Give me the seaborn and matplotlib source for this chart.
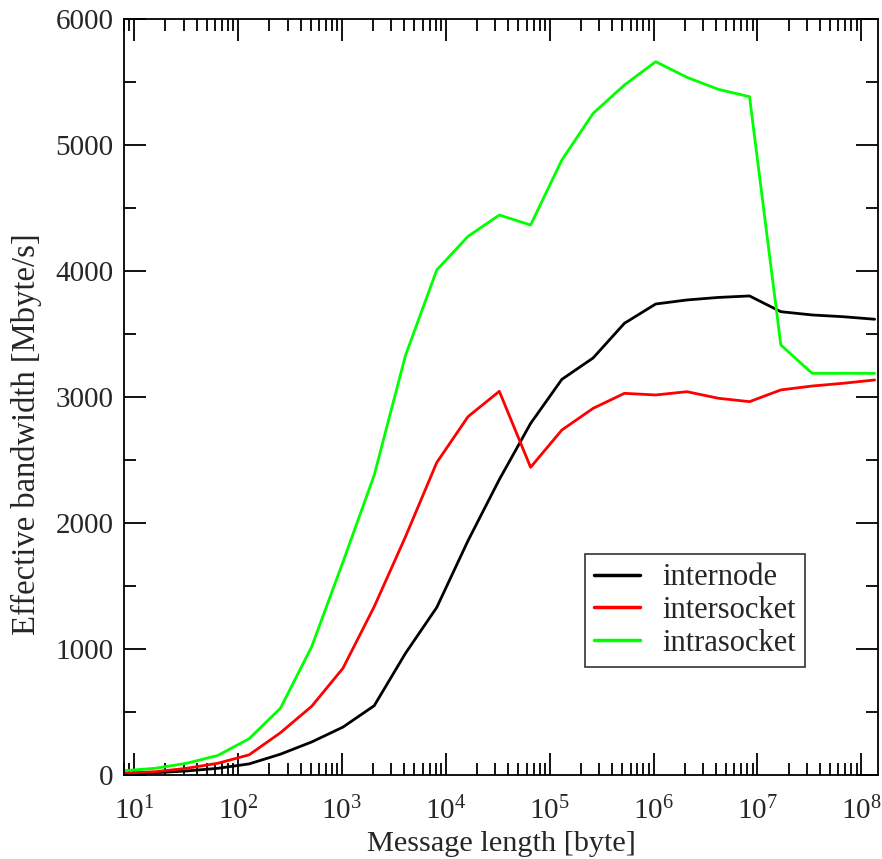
import pandas as pd
import seaborn as sns
import matplotlib.pyplot as plt
from matplotlib.ticker import FixedLocator, LogLocator, MultipleLocator, NullFormatter

# message sizes (bytes), powers of two from 8 to 128M
msg_len = [8, 16, 32, 64, 128, 256, 512, 1024, 2048, 4096, 8192, 16384,
           32768, 65536, 131072, 262144, 524288, 1048576, 2097152, 4194304,
           8388608, 16777216, 33554432, 67108864, 134217728]

# effective bandwidth in Mbyte/s
internode = [8, 18, 32, 53, 88, 165, 262, 380, 550, 966, 1330, 1860, 2345,
             2790, 3140, 3310, 3585, 3738, 3770, 3790, 3802, 3677, 3651,
             3637, 3617]
intersocket = [15, 26, 53, 93, 160, 335, 545, 847, 1336, 1891, 2480, 2844,
               3045, 2442, 2738, 2910, 3029, 3016, 3042, 2990, 2963, 3056,
               3087, 3109, 3135]
intrasocket = [34, 53, 93, 155, 288, 529, 1018, 1690, 2380, 3330, 4008, 4275,
               4444, 4365, 4881, 5251, 5476, 5661, 5537, 5442, 5383, 3413,
               3188, 3188, 3188]

series = ['internode', 'intersocket', 'intrasocket']
colors = ['#000000', '#ff0000', '#00ff00']
decades = [1e1, 1e2, 1e3, 1e4, 1e5, 1e6, 1e7, 1e8]

df = pd.DataFrame({
    'len': msg_len * 3,
    'bw': internode + intersocket + intrasocket,
    'kind': [s for s in series for _ in msg_len],
})

sns.set_style('ticks')
plt.rcParams['font.family'] = ['Liberation Serif', 'DejaVu Serif']
plt.rcParams['mathtext.fontset'] = 'custom'
plt.rcParams['mathtext.rm'] = 'Liberation Serif'
plt.rcParams['mathtext.it'] = 'Liberation Serif:italic'

fig = plt.figure(figsize=(8.82, 8.59), dpi=100)
ax = fig.add_axes([0.1406, 0.0978, 0.855, 0.8801])

sns.lineplot(data=df, x='len', y='bw', hue='kind', hue_order=series,
             palette=colors, linewidth=2, ax=ax, sort=False)

ax.set_xscale('log')
ax.set_xlim(8, 1.45e8)
ax.set_ylim(0, 6000)
ax.xaxis.set_major_locator(FixedLocator(decades))
ax.xaxis.set_minor_locator(LogLocator(base=10, subs=range(2, 10), numticks=100))
ax.xaxis.set_minor_formatter(NullFormatter())
ax.yaxis.set_major_locator(MultipleLocator(1000))
ax.yaxis.set_minor_locator(MultipleLocator(500))

ax.tick_params(which='both', direction='in', top=True, right=True,
               width=1.3, color='black', labelsize=21)
ax.tick_params(which='major', length=16)
ax.tick_params(which='minor', length=8.5)
ax.tick_params(axis='x', which='major', pad=16)
ax.tick_params(axis='y', which='major', pad=7.5)
for sp in ax.spines.values():
    sp.set_linewidth(1.3)
    sp.set_color('black')

ax.set_xlabel('Message length [byte]', fontsize=21.8, labelpad=4)
ax.set_ylabel('Effective bandwidth [Mbyte/s]', fontsize=23.5)
ax.yaxis.set_label_coords(-0.109, 0.451)

leg = ax.legend(loc='lower left', bbox_to_anchor=(0.611, 0.143), fontsize=22,
                frameon=True, fancybox=False, edgecolor='black',
                borderaxespad=0, handlelength=1.5, handletextpad=0.75,
                borderpad=0.3, labelspacing=0.12)
leg.get_frame().set_linewidth(1.2)
for line in leg.get_lines():
    line.set_linewidth(2.5)

plt.savefig('out.png', dpi=100)
